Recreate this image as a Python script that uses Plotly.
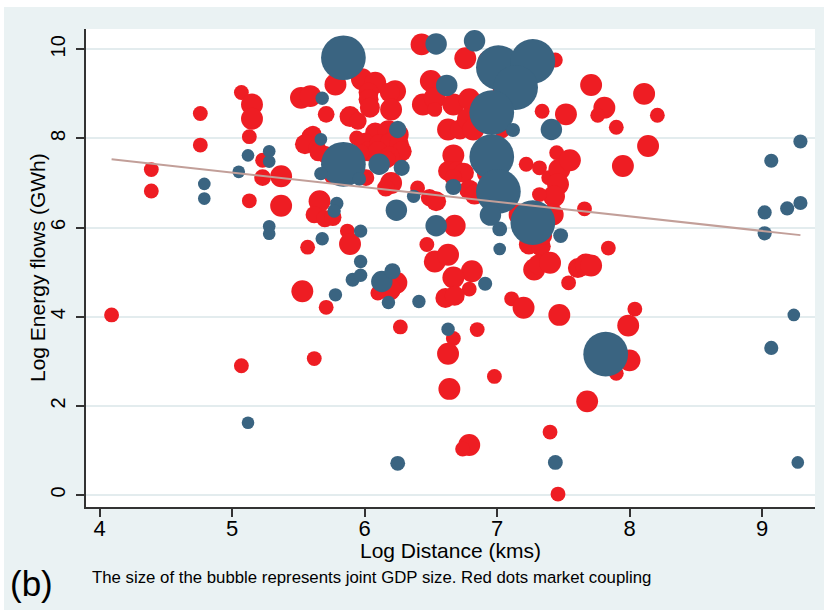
import plotly.graph_objects as go

# ---------------- data ----------------
# Red = market coupling pairs: log distance, log energy flow, joint GDP (relative)
red_dist = [4.09, 4.39, 4.39, 4.76, 4.76, 5.07, 5.15, 5.15, 5.13, 5.23, 5.23, 5.13, 5.07, 5.37, 5.37,
            5.78, 5.52, 5.59, 5.71, 5.98, 6.08, 6.03, 6.03, 6.04, 5.89, 5.95, 6.23, 6.19, 6.20,
            5.59, 5.61, 5.55, 5.64, 5.70, 5.65, 5.94, 6.08, 6.18, 6.25, 6.00, 6.03, 6.11, 6.19,
            6.26, 6.28, 5.96, 6.10, 6.19, 6.17, 5.97, 5.75, 6.01, 6.20, 6.16, 5.66, 5.62, 5.70,
            5.76, 5.87, 5.89, 5.57, 6.40, 6.49, 6.54, 6.43, 6.76, 6.93, 6.50, 6.44, 6.53, 6.53,
            6.67, 6.79, 6.63, 6.72, 6.78, 6.82, 7.04, 7.04, 7.34, 7.44, 6.67, 6.63, 6.70, 6.75,
            6.67, 6.93, 6.79, 6.83, 7.22, 7.32, 7.39, 7.45, 7.47, 7.55, 7.46, 7.43, 7.32, 7.17,
            7.42, 7.66, 7.95, 8.14, 7.90, 8.21, 7.81, 7.76, 7.52, 7.71, 8.11, 6.68, 6.47, 6.53,
            6.63, 6.81, 6.67, 7.24, 7.33, 7.35, 7.28, 7.31, 7.40, 7.84, 7.61, 7.67, 7.71, 7.54,
            7.47, 8.04, 7.99, 8.00, 7.90, 7.68, 7.40, 7.46, 6.24, 6.19, 6.10, 5.53, 5.71, 6.79,
            6.61, 6.68, 7.11, 7.20, 6.27, 6.67, 6.85, 6.63, 5.62, 6.98, 6.64, 6.79, 6.74]
red_flow = [4.04, 7.30, 6.82, 8.56, 7.85, 9.03, 8.76, 8.44, 8.04, 7.51, 7.12, 6.60, 2.90, 7.15, 6.49,
            9.21, 8.91, 8.95, 8.54, 9.33, 9.25, 9.03, 8.88, 8.69, 8.49, 8.39, 9.06, 9.03, 8.65,
            8.05, 8.09, 7.87, 7.79, 7.64, 7.68, 8.01, 8.13, 8.16, 8.09, 7.90, 7.71, 7.87, 7.90,
            7.87, 7.71, 7.64, 7.71, 7.60, 7.53, 7.68, 7.15, 7.12, 7.00, 6.89, 6.59, 6.29, 6.20,
            6.23, 5.92, 5.63, 5.56, 6.89, 6.67, 6.59, 10.11, 9.80, 9.74, 9.29, 8.76, 8.91, 8.65,
            8.76, 8.88, 8.20, 8.20, 8.43, 8.20, 8.17, 9.03, 8.61, 9.76, 7.62, 7.27, 7.27, 7.23,
            7.12, 7.23, 6.85, 6.74, 7.42, 7.34, 7.12, 7.68, 7.30, 7.51, 6.97, 6.70, 6.74, 6.29,
            6.29, 6.42, 7.38, 7.83, 8.25, 8.52, 8.69, 8.52, 8.54, 9.20, 9.00, 6.04, 5.62, 5.24,
            5.39, 5.02, 4.88, 5.62, 5.58, 5.81, 5.06, 5.17, 5.21, 5.54, 5.09, 5.17, 5.15, 4.76,
            4.04, 4.17, 3.80, 3.02, 2.73, 2.10, 1.41, 0.02, 4.76, 4.61, 4.53, 4.57, 4.21, 4.62,
            4.42, 4.47, 4.40, 4.20, 3.77, 3.51, 3.71, 3.17, 3.06, 2.66, 2.38, 1.12, 1.03]
red_gdp = [1.1, 1.1, 1.1, 1.1, 1.1, 1.1, 2.4, 2.4, 1.1, 1.1, 1.4, 1.1, 1.1, 2.4, 2.4,
           2.4, 2.4, 2.4, 1.4, 2.4, 2.4, 2.0, 2.0, 2.0, 2.2, 1.5, 2.4, 2.0, 2.4,
           1.5, 1.5, 2.0, 1.5, 1.5, 1.5, 1.1, 2.0, 2.4, 2.4, 2.0, 2.0, 2.0, 2.0,
           2.0, 2.0, 1.5, 2.0, 2.0, 1.5, 1.5, 1.1, 1.4, 2.4, 1.5, 2.4, 1.5, 1.5,
           1.5, 1.1, 2.4, 1.1, 1.1, 1.5, 2.0, 2.4, 2.4, 2.0, 2.4, 2.4, 2.4, 1.1,
           2.4, 2.4, 2.4, 2.0, 2.4, 2.4, 1.1, 2.0, 1.1, 1.1, 2.4, 2.0, 2.0, 2.0,
           1.5, 2.4, 2.0, 2.0, 1.1, 1.1, 1.1, 1.1, 2.4, 2.4, 2.4, 2.4, 1.1, 2.4,
           2.4, 1.1, 2.4, 2.4, 1.1, 1.1, 2.4, 1.1, 2.4, 2.4, 2.4, 2.4, 1.1, 2.4,
           2.4, 2.4, 2.4, 2.0, 2.0, 1.5, 2.4, 2.0, 2.4, 1.1, 2.0, 2.4, 2.4, 1.1,
           2.4, 1.1, 2.4, 2.4, 1.1, 2.4, 1.1, 1.1, 2.4, 2.4, 1.1, 2.4, 1.1, 1.1,
           2.0, 2.0, 1.1, 2.4, 1.1, 1.1, 1.1, 2.4, 1.1, 1.1, 2.4, 2.4, 1.1]

# Blue = no market coupling
blue_dist = [4.79, 4.79, 5.12, 5.05, 5.28, 5.28, 5.28, 5.28, 5.12, 5.84, 5.84, 6.54, 6.83, 7.01,
             7.27, 7.14, 6.96, 6.96, 7.01, 7.27, 7.82, 5.68, 6.62, 7.12, 7.41, 5.67, 6.25, 6.11,
             6.28, 5.67, 5.96, 5.79, 5.77, 5.97, 5.68, 5.97, 5.91, 5.97, 6.13, 6.21, 6.18, 5.78,
             6.41, 6.24, 6.37, 6.67, 6.95, 7.02, 7.02, 6.54, 6.91, 7.48, 6.63, 6.25, 7.44, 9.29,
             9.07, 9.29, 9.19, 9.02, 9.02, 9.24, 9.07, 9.27]
blue_flow = [6.98, 6.65, 7.62, 7.25, 7.71, 7.48, 6.03, 5.86, 1.62, 9.81, 7.42, 10.12, 10.19, 9.59,
             9.73, 9.14, 8.58, 7.59, 6.81, 6.11, 3.16, 8.90, 9.19, 8.19, 8.20, 7.98, 8.20, 7.42,
             7.34, 7.21, 7.09, 6.54, 6.37, 5.92, 5.75, 5.24, 4.83, 4.93, 4.79, 5.02, 4.32, 4.49,
             4.34, 6.39, 6.70, 6.91, 6.28, 5.97, 5.52, 6.04, 4.74, 5.82, 3.72, 0.71, 0.73, 7.93,
             7.50, 6.55, 6.43, 6.34, 5.87, 4.04, 3.30, 0.73]
blue_gdp = [0.8, 0.8, 0.8, 0.8, 0.8, 0.8, 0.8, 0.8, 0.8, 10, 10, 2.3, 2.3, 10,
            10, 10, 10, 10, 10, 10, 10, 0.9, 2.3, 1.0, 2.3, 0.8, 1.5, 2.3,
            1.3, 0.9, 0.9, 0.9, 0.9, 0.9, 0.9, 0.9, 1.0, 0.9, 2.3, 1.3, 0.9, 0.9,
            0.9, 2.3, 0.9, 1.3, 2.3, 1.1, 0.8, 2.3, 1.0, 1.1, 0.9, 1.1, 1.1, 1.0,
            1.0, 1.0, 1.0, 1.0, 1.0, 0.8, 1.0, 0.8]

# Linear fit line (end points)
fit_dist = [4.09, 9.29]
fit_flow = [7.53, 5.83]

x_ticks = [4, 5, 6, 7, 8, 9]
y_ticks = [0, 2, 4, 6, 8, 10]

# ---------------- figure ----------------
RED = "#ee1d23"
BLUE = "#3a6481"
BG = "#eaf2f3"
SIZEREF = 0.01

fig = go.Figure()
fig.add_trace(go.Scatter(
    x=red_dist, y=red_flow, mode="markers",
    marker=dict(size=red_gdp, sizemode="area", sizeref=SIZEREF, color=RED,
                opacity=1, line=dict(width=0)),
    showlegend=False, hoverinfo="skip"))
fig.add_trace(go.Scatter(
    x=blue_dist, y=blue_flow, mode="markers",
    marker=dict(size=blue_gdp, sizemode="area", sizeref=SIZEREF, color=BLUE,
                opacity=1, line=dict(width=0)),
    showlegend=False, hoverinfo="skip"))
fig.add_trace(go.Scatter(
    x=fit_dist, y=fit_flow, mode="lines",
    line=dict(color="#c29f99", width=2), showlegend=False, hoverinfo="skip"))

AX_FONT = "Liberation Sans, Arial, sans-serif"

# figure is placed 4px right / 7px down on a white page (see post_script)
fig.update_layout(
    width=820, height=603,
    margin=dict(l=82, r=9, t=22, b=103, pad=0, autoexpand=False),
    paper_bgcolor=BG, plot_bgcolor="white",
    font=dict(family=AX_FONT, color="black"),
    xaxis=dict(
        range=[3.897, 9.40], tickvals=x_ticks, ticks="outside", ticklen=8,
        tickwidth=1.5, tickcolor="#333333", showline=True, linecolor="#333333",
        linewidth=1.5, showgrid=False, zeroline=False, automargin=False,
        ticklabelstandoff=-7,
        tickfont=dict(size=22, family=AX_FONT)),
    yaxis=dict(
        range=[-0.27, 10.455], tickvals=y_ticks, tickangle=-90, ticks="outside",
        ticklen=8, tickwidth=1.5, tickcolor="#333333", showline=True,
        linecolor="#333333", linewidth=1.5, showgrid=True, gridcolor="#e3ecee",
        gridwidth=1.5, zeroline=False, automargin=False,
        ticklabelstandoff=3,
        tickfont=dict(size=20, family=AX_FONT)),
    annotations=[
        dict(text="Log Distance (kms)", xref="paper", yref="paper", x=0.5, y=-0.092,
             xanchor="center", yanchor="middle", showarrow=False,
             font=dict(size=21, family=AX_FONT)),
        dict(text="Log Energy flows (GWh)", xref="paper", yref="paper",
             x=-0.0672, y=0.5, textangle=-90, xanchor="center", yanchor="middle",
             showarrow=False, font=dict(size=21, family=AX_FONT)),
        dict(text="(b)", xref="paper", yref="paper", x=-0.107, y=-0.16,
             xanchor="left", yanchor="middle", showarrow=False,
             font=dict(size=35, family=AX_FONT)),
        dict(text="The size of the bubble represents joint GDP size. Red dots market coupling",
             xref="paper", yref="paper", x=0.0055, y=-0.1485,
             xanchor="left", yanchor="middle", showarrow=False,
             font=dict(size=16.8, family=AX_FONT)),
    ],
)

fig.write_html(
    "out.html",
    config={"displayModeBar": False},
    post_script=("document.body.style.margin='0px';"
                 "document.body.style.background='white';"
                 "var d=document.getElementById('{plot_id}');"
                 "d.style.marginLeft='4px';d.style.marginTop='7px';"),
)
